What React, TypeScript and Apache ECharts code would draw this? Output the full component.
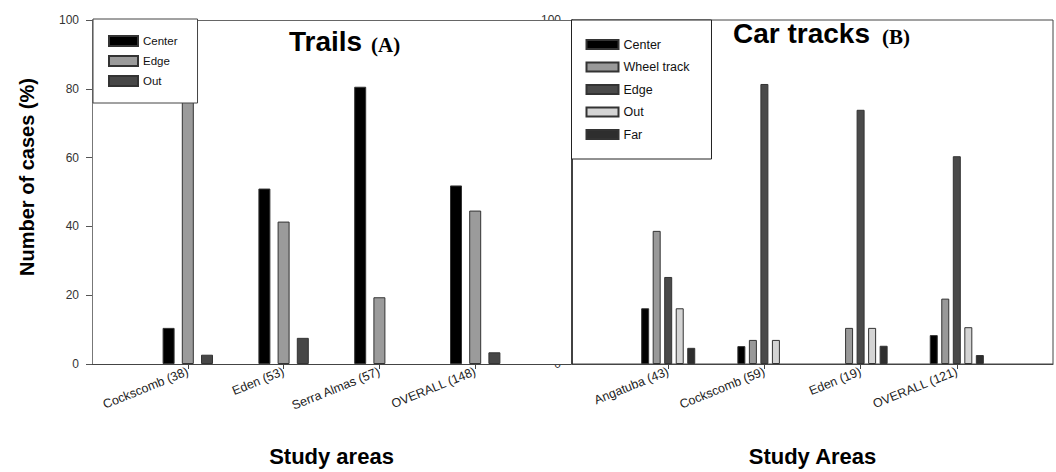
import React, { useEffect, useRef } from "react";
import * as echarts from "echarts";

// ---- data ----
const trailAreas = ["Cockscomb (38)", "Eden (53)", "Serra Almas (57)", "OVERALL (148)"];
const trailCenter = [10.5, 51.0, 80.6, 51.9];
const trailEdge = [86.8, 41.4, 19.4, 44.6];
const trailOut = [2.7, 7.6, 0, 3.4];

const carAreas = ["Angatuba (43)", "Cockscomb (59)", "Eden (19)", "OVERALL (121)"];
const carCenter = [16.2, 5.2, 0, 8.4];
const carWheel = [38.7, 7.0, 10.5, 19.0];
const carEdge = [25.3, 81.4, 73.9, 60.4];
const carOut = [16.2, 7.0, 10.5, 10.7];
const carFar = [4.7, 0, 5.3, 2.6];

const trailLegend = ["Center", "Edge", "Out"];
const carLegend = ["Center ", "Wheel track", "Edge ", "Out ", "Far"];

const SANS = '"Liberation Sans", Arial, Helvetica, sans-serif';
const SERIF = '"Liberation Serif", "Times New Roman", serif';

const padCats = (a: string[]) => ["", ...a, ""];
const padVals = (a: number[]) => [null, ...a.map((v) => (v === 0 ? null : v)), null];
const showInner = (i: number) => i > 0 && i < 5;

export default function App() {
  const ref = useRef<HTMLDivElement>(null);
  useEffect(() => {
    if (!ref.current) return;
    const chart = echarts.init(ref.current, undefined, { renderer: "svg" });

    const bar = (name: string, data: number[], color: string, xi: number, w: number, gap: string) => ({
      type: "bar",
      name,
      xAxisIndex: xi,
      yAxisIndex: xi,
      data: padVals(data),
      barWidth: w,
      barGap: gap,
      z: 3,
      itemStyle: { color, borderColor: "#333", borderWidth: 1 },
    });

    const xCommon = (cats: string[], gi: number, name: string) => ({
      type: "category",
      gridIndex: gi,
      data: padCats(cats),
      boundaryGap: false,
      z: 2,
      name,
      nameLocation: "middle",
      nameGap: 81,
      nameTextStyle: { fontSize: 22, fontWeight: "bold", color: "#000", fontFamily: SANS },
      axisLine: { show: true, lineStyle: { color: "#444", width: 1 } },
      axisTick: { show: true, interval: (i: number) => showInner(i), length: 5, lineStyle: { color: "#444" } },
      axisLabel: {
        interval: 0,
        rotate: 22,
        margin: 7,
        fontSize: 12.5,
        color: "#222",
        fontFamily: SANS,
      },
      splitLine: { show: false },
    });

    const option: any = {
      animation: false,
      backgroundColor: "#fff",
      title: [
        { text: "Trails", left: 289, top: 27, padding: 0, textStyle: { fontSize: 28, fontWeight: "bold", color: "#000", fontFamily: SANS } },
        { text: "(A)", left: 371, top: 34, padding: 0, textStyle: { fontSize: 21, fontWeight: "bold", color: "#000", fontFamily: SERIF } },
        { text: "Car tracks", left: 733, top: 19, padding: 0, textStyle: { fontSize: 28, fontWeight: "bold", color: "#000", fontFamily: SANS } },
        { text: "(B)", left: 882, top: 26, padding: 0, textStyle: { fontSize: 21, fontWeight: "bold", color: "#000", fontFamily: SERIF } },
      ],
      legend: [
        {
          data: trailLegend,
          left: 93,
          top: 19,
          orient: "vertical",
          icon: "rect",
          itemWidth: 29,
          itemHeight: 10,
          itemGap: 8,
          padding: [16, 20, 16, 15],
          backgroundColor: "#fff",
          borderColor: "#444",
          borderWidth: 1,
          borderRadius: 0,
          selectedMode: false,
          textStyle: { fontSize: 11.5, color: "#111", fontFamily: SANS },
        },
        {
          data: carLegend,
          left: 571.5,
          top: 20,
          orient: "vertical",
          icon: "rect",
          itemWidth: 32,
          itemHeight: 9,
          itemGap: 9.5,
          padding: [18, 22, 18, 14],
          backgroundColor: "#fff",
          borderColor: "#222",
          borderWidth: 1,
          borderRadius: 0,
          selectedMode: false,
          formatter: (n: string) => n.trim(),
          textStyle: { fontSize: 12.5, color: "#111", fontFamily: SANS },
        },
      ],
      grid: [
        { left: 92, top: 20, width: 479, height: 346, show: true, backgroundColor: "#fff", borderWidth: 0, z: 1, containLabel: false },
        { left: 572, top: 20, width: 481, height: 346, show: true, backgroundColor: "transparent", borderColor: "#444", borderWidth: 1, z: 0, containLabel: false },
      ],
      xAxis: [
        xCommon(trailAreas, 0, "Study areas"),
        xCommon(carAreas, 1, "Study Areas"),
        {
          type: "category",
          gridIndex: 0,
          position: "top",
          data: padCats(trailAreas),
          boundaryGap: false,
          z: 2,
          axisLine: { show: true, lineStyle: { color: "#666" } },
          axisTick: { show: false },
          axisLabel: { show: false },
          splitLine: { show: false },
        },
      ],
      yAxis: [
        {
          type: "value",
          gridIndex: 0,
          min: 0,
          max: 100,
          interval: 20,
          z: 2,
          axisLine: { show: true, lineStyle: { color: "#777" } },
          axisTick: { show: true, length: 6, lineStyle: { color: "#555" } },
          axisLabel: { fontSize: 12, color: "#333", margin: 13, fontFamily: SANS },
          splitLine: { show: false },
        },
        {
          type: "value",
          gridIndex: 1,
          min: 0,
          max: 100,
          interval: 100,
          z: 0,
          axisLine: { show: true, lineStyle: { color: "#222", width: 1.5 } },
          axisTick: { show: false },
          axisLabel: { fontSize: 12, color: "#333", margin: 11, fontFamily: SANS },
          splitLine: { show: false },
        },
      ],
      graphic: [
        {
          type: "text",
          x: 27,
          y: 177,
          rotation: Math.PI / 2,
          z: 10,
          style: {
            text: "Number of cases (%)",
            fontSize: 20,
            fontWeight: "bold",
            fontFamily: SANS,
            fill: "#000",
            align: "center",
            verticalAlign: "middle",
            textAlign: "center",
            textVerticalAlign: "middle",
          },
        },
      ],
      series: [
        bar("Center", trailCenter, "#000000", 0, 12, "60%"),
        bar("Edge", trailEdge, "#9b9b9b", 0, 12, "60%"),
        bar("Out", trailOut, "#474747", 0, 12, "60%"),
        bar("Center ", carCenter, "#000000", 1, 8, "44%"),
        bar("Wheel track", carWheel, "#999999", 1, 8, "44%"),
        bar("Edge ", carEdge, "#4a4a4a", 1, 8, "44%"),
        bar("Out ", carOut, "#d4d4d4", 1, 8, "44%"),
        bar("Far", carFar, "#2e2e2e", 1, 8, "44%"),
      ],
    };

    chart.setOption(option);
    return () => chart.dispose();
  }, []);

  return (
    <div
      ref={ref}
      style={{ position: "fixed", left: 0, top: 0, width: 1056, height: 472, background: "#fff" }}
    />
  );
}
